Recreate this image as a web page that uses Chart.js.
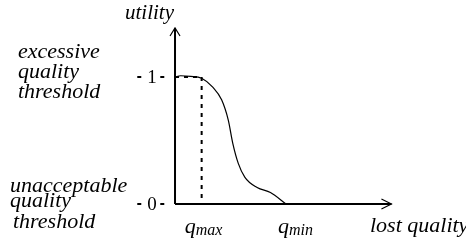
<!DOCTYPE html>
<html>
<head>
<meta charset="utf-8">
<script src="https://cdn.jsdelivr.net/npm/chart.js@4/dist/chart.umd.min.js"></script>
<style>
html, body { margin: 0; padding: 0; background: #fff; }
#grafico { display: block; }
</style>
</head>
<body>
<canvas id="grafico" width="466" height="240"></canvas>
<script>
// curva de utilidade em funcao da qualidade perdida
var perdaQualidade = [0, 0.5, 1.4, 2.4, 3.4, 4.2, 4.8, 5.2, 5.7, 6.3, 7.4, 8.6, 10];
var utilidade = [1.0, 1.01, 1.005, 0.99, 0.92, 0.82, 0.66, 0.48, 0.32, 0.21, 0.13, 0.09, 0];

var qMax = 2.4;
var qMin = 10;
var valoresTick = [1, 0];
var rotulosTick = ["1", "0"];
var fimEixoX = 19.5;
var fimEixoY = 1.386;
var inicioGuia = -3.4; // tracejado comeca a esquerda do eixo

var rotuloY = "utility";
var rotuloX = "lost quality";
var limiteSuperior = ["excessive", "quality", "threshold"];
var limiteInferior = ["unacceptable", "quality", "threshold"];

var curva = perdaQualidade.map(function (x, i) { return { x: x, y: utilidade[i] }; });

var FONTE = '"Liberation Serif", "Times New Roman", serif';

function guia(pontos, traco) {
    return {
        data: pontos,
        borderColor: "#000",
        borderWidth: 2,
        borderDash: traco || [4, 5],
        pointRadius: 0,
        fill: false,
        tension: 0
    };
}

function texto(ctx, s, x, y, tam) {
    ctx.font = "italic " + tam + "px " + FONTE;
    ctx.textAlign = "left";
    ctx.textBaseline = "alphabetic";
    ctx.fillText(s, x, y);
    return ctx.measureText(s).width;
}

function textoSub(ctx, base, sub, x, y) {
    var w = texto(ctx, base, x, y, 22);
    texto(ctx, sub, x + w, y + 2, 16);
}

var eixosPlugin = {
    id: "eixos",
    beforeDatasetsDraw: function (chart) {
        var ctx = chart.ctx;
        var sx = chart.scales.x, sy = chart.scales.y;
        var x0 = sx.getPixelForValue(0), y0 = sy.getPixelForValue(0);
        var xf = sx.getPixelForValue(fimEixoX), yf = sy.getPixelForValue(fimEixoY);
        ctx.save();
        ctx.strokeStyle = "#000";
        ctx.lineWidth = 2;
        ctx.beginPath();
        ctx.moveTo(x0, y0);
        ctx.lineTo(x0, yf);
        ctx.moveTo(x0, y0);
        ctx.lineTo(xf, y0);
        ctx.stroke();
        // pontas de seta abertas
        ctx.lineWidth = 1.2;
        ctx.beginPath();
        ctx.moveTo(x0 - 5, yf + 8);
        ctx.lineTo(x0, yf);
        ctx.lineTo(x0 + 5, yf + 8);
        ctx.moveTo(xf - 10, y0 - 5);
        ctx.lineTo(xf, y0);
        ctx.lineTo(xf - 10, y0 + 5);
        ctx.stroke();
        ctx.restore();
    },
    afterDatasetsDraw: function (chart) {
        var ctx = chart.ctx;
        var sx = chart.scales.x, sy = chart.scales.y;
        var x0 = sx.getPixelForValue(0);
        ctx.save();

        // rotulos 1 e 0 no meio do tracejado
        valoresTick.forEach(function (v, i) {
            var py = sy.getPixelForValue(v);
            ctx.fillStyle = "#000";
            ctx.font = "19px " + FONTE;
            ctx.textAlign = "center";
            ctx.textBaseline = "middle";
            ctx.fillText(rotulosTick[i], x0 - 23, py + 1);
        });

        ctx.fillStyle = "#000";
        texto(ctx, rotuloY, x0 - 50, 19, 21);
        texto(ctx, rotuloX, 370, 232, 22);

        var y1 = sy.getPixelForValue(1);
        limiteSuperior.forEach(function (s, i) {
            texto(ctx, s, 18, y1 - 19 + i * 20, 22);
        });
        var yz = sy.getPixelForValue(0);
        var desloc = [-12, 3, 24];
        var esq = [10, 10, 13];
        limiteInferior.forEach(function (s, i) {
            texto(ctx, s, esq[i], yz + desloc[i], 22);
        });

        textoSub(ctx, "q", "max", sx.getPixelForValue(qMax) - 17, 233);
        textoSub(ctx, "q", "min", sx.getPixelForValue(qMin) - 8, 233);
        ctx.restore();
    }
};

function desenhar() {
    var ctx = document.getElementById("grafico");
    new Chart(ctx, {
        type: "line",
        data: {
            datasets: [
                {
                    data: curva,
                    borderColor: "#000",
                    borderWidth: 1.2,
                    pointRadius: 0,
                    fill: false,
                    cubicInterpolationMode: "monotone"
                },
                // parte a esquerda do eixo: ponto, rotulo, traco
                guia([{ x: inicioGuia, y: 1 }, { x: 0, y: 1 }], [4, 19]),
                guia([{ x: 0, y: 1 }, { x: qMax, y: 1 }]),
                guia([{ x: qMax, y: 1 }, { x: qMax, y: 0 }]),
                guia([{ x: inicioGuia, y: 0 }, { x: 0, y: 0 }], [4, 19]),
                guia([{ x: 0, y: 0 }, { x: qMin, y: 0 }])
            ]
        },
        options: {
            responsive: false,
            devicePixelRatio: 1,
            animation: false,
            layout: { padding: 0 },
            plugins: {
                legend: { display: false },
                tooltip: { enabled: false }
            },
            scales: {
                x: { type: "linear", min: -15.77, max: 26.22, display: false },
                y: { type: "linear", min: -0.2835, max: 1.6063, display: false }
            }
        },
        plugins: [eixosPlugin]
    });
}

if (document.fonts && document.fonts.load) {
    Promise.all([
        document.fonts.load("italic 22px " + FONTE),
        document.fonts.load("19px " + FONTE)
    ]).then(desenhar, desenhar);
} else {
    desenhar();
}
</script>
</body>
</html>
